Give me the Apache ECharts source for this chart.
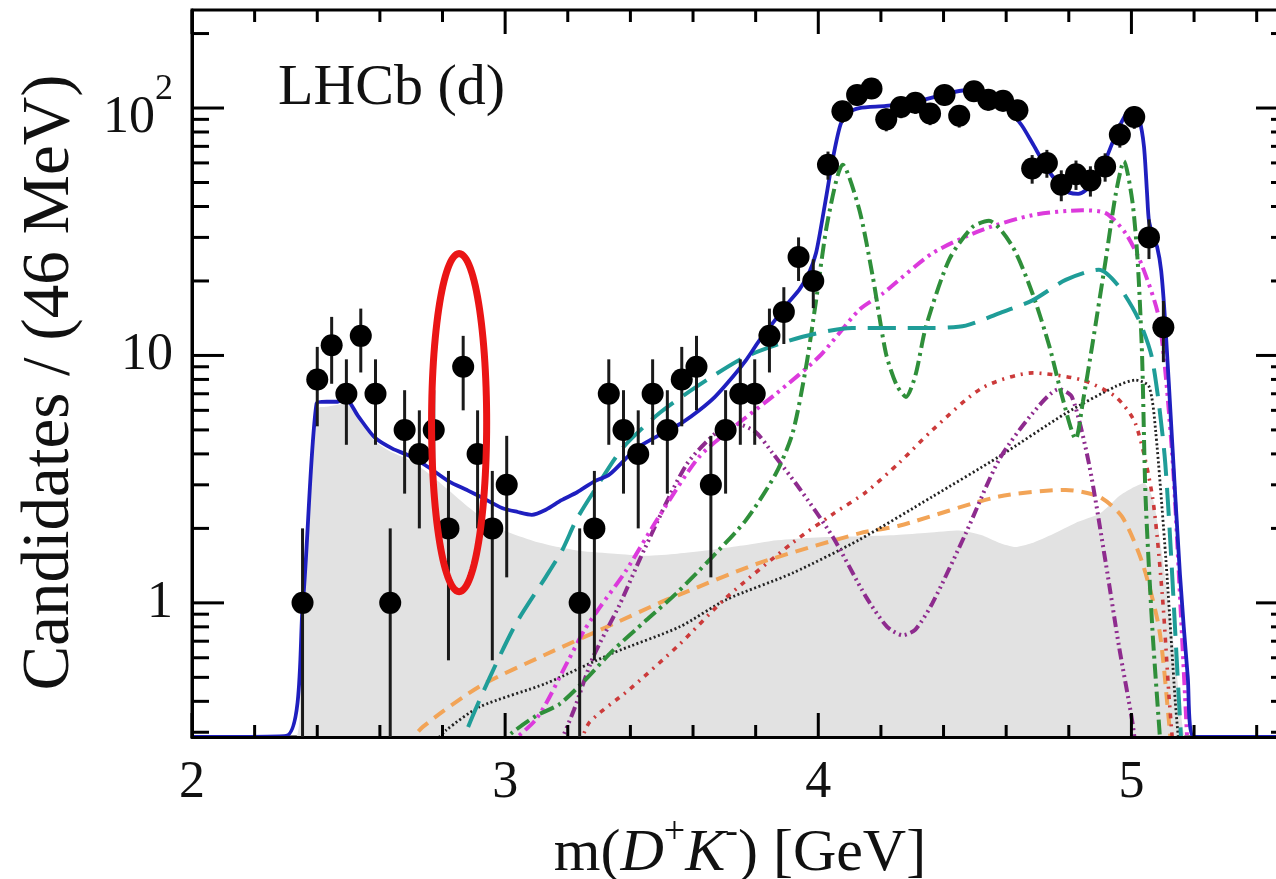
<!DOCTYPE html>
<html>
<head>
<meta charset="utf-8">
<title>m(D+K-) fit</title>
<script src="https://cdn.jsdelivr.net/npm/echarts@6/dist/echarts.min.js"></script>
<style>
  html, body { margin: 0; padding: 0; background: #fff; }
  #chart { width: 1276px; height: 879px; }
</style>
</head>
<body>
<div id="chart"></div>
<script>
// ---- axis ranges ----
const X_MIN = 2.0, X_MAX = 5.5;
const Y_MIN = 0.287, Y_MAX = 249;

// ---- tick positions ----
const xMajorTicks = [2, 3, 4, 5];
const xMinorTicks = [2.2, 2.4, 2.6, 2.8, 3.2, 3.4, 3.6, 3.8, 4.2, 4.4, 4.6, 4.8, 5.2, 5.4];
const yMajorTicks = [1, 10, 100];
const yMinorTicks = [0.3, 0.4, 0.5, 0.6, 0.7, 0.8, 0.9,
                     2, 3, 4, 5, 6, 7, 8, 9,
                     20, 30, 40, 50, 60, 70, 80, 90, 200];

// ---- data: candidates per 46 MeV bin ----
const binCentres = [2.353, 2.400, 2.446, 2.493, 2.539, 2.586, 2.633, 2.679, 2.726, 2.772,
                    2.819, 2.866, 2.912, 2.959, 3.005,
                    3.238, 3.285, 3.331, 3.378, 3.425, 3.471, 3.518, 3.564, 3.611, 3.657,
                    3.704, 3.751, 3.797, 3.844, 3.890, 3.937, 3.984, 4.031, 4.077, 4.124,
                    4.170, 4.217, 4.264, 4.310, 4.357, 4.403, 4.450, 4.497, 4.543, 4.590,
                    4.636, 4.683, 4.730, 4.776, 4.823, 4.869, 4.916, 4.963, 5.009, 5.056, 5.102];
const binCounts  = [1, 8, 11, 7, 12, 7, 1, 5, 4, 5,
                    2, 9, 4, 2, 3,
                    1, 2, 7, 5, 4, 7, 5, 8, 9, 3,
                    5, 7, 7, 12, 15, 25, 20, 59, 97, 113,
                    120, 90, 101, 105, 95, 113, 93, 117, 108, 107,
                    98, 57, 60, 49, 54, 51, 58, 78, 92, 30, 13];

// ---- fit components, [mass, candidates] ----
const totalFit = [[2.00,0],[2.30,0.29],[2.354,1.0],[2.398,6.4],[2.43,6.5],[2.465,6.5],[2.49,6.7],
  [2.53,5.7],[2.584,4.65],[2.64,4.2],[2.70,3.9],[2.76,3.5],[2.82,3.1],[2.88,2.85],[2.93,2.65],
  [2.99,2.42],[3.04,2.33],[3.085,2.27],[3.13,2.38],[3.18,2.6],[3.23,2.8],[3.285,3.1],[3.333,3.3],
  [3.418,4.2],[3.47,4.6],[3.525,5.0],[3.57,5.4],[3.62,6.0],[3.67,6.8],[3.727,8.2],[3.77,9.6],
  [3.812,11.5],[3.86,13.8],[3.907,16.5],[3.94,18.5],[3.97,21.5],[3.993,26],[4.02,40],[4.046,62],
  [4.07,85],[4.09,95],[4.131,100],[4.216,102],[4.312,106],[4.407,114],[4.471,118],[4.535,111],
  [4.609,98],[4.65,85],[4.684,72],[4.72,60],[4.748,53],[4.78,47.5],[4.801,45.5],[4.83,45],
  [4.854,46.5],[4.89,52],[4.918,62],[4.95,78],[4.982,94],[5.008,98],[5.025,90],[5.04,70],
  [5.05,45],[5.056,35],[5.07,30],[5.082,27.5],[5.095,22],[5.108,13.5],[5.13,4.5],[5.155,1.3],
  [5.18,0.5],[5.20,0.25],[5.50,0]];

const backgroundShape = [[2.0,0],[2.33,0],[2.345,0.4],[2.37,2.0],[2.398,6.1],[2.43,6.2],[2.49,6.4],
  [2.584,4.5],[2.64,4.05],[2.70,3.75],[2.76,3.3],[2.82,2.85],[2.88,2.45],[2.94,2.15],[3.0,1.95],
  [3.09,1.78],[3.17,1.68],[3.24,1.62],[3.35,1.58],[3.45,1.55],[3.55,1.58],[3.65,1.63],[3.75,1.7],
  [3.85,1.78],[3.94,1.82],[4.05,1.85],[4.15,1.86],[4.25,1.88],[4.35,1.92],[4.45,1.96],[4.52,1.88],
  [4.577,1.75],[4.63,1.68],[4.68,1.74],[4.75,1.9],[4.82,2.1],[4.9,2.3],[4.96,2.7],[5.0,2.9],
  [5.04,3.05],[5.07,2.6],[5.10,1.5],[5.14,0.6],[5.17,0.29],[5.2,0],[5.5,0]];

const tealComponent = [[2.85,0.22],[2.871,0.29],[2.951,0.50],[3.036,0.83],[3.131,1.28],[3.183,1.64],
  [3.227,2.16],[3.28,2.78],[3.375,4.22],[3.493,5.85],[3.62,7.6],[3.769,9.9],[3.95,11.9],[4.108,12.9],
  [4.25,12.9],[4.365,12.9],[4.471,13.2],[4.577,14.8],[4.684,16.7],[4.79,20.2],[4.896,22.2],[4.96,19.0],
  [5.024,13.9],[5.067,9.6],[5.108,3.67],[5.151,0.42],[5.165,0.2]];

const greenComponent = [[2.97,0.26],[3.024,0.30],[3.10,0.35],[3.174,0.39],[3.25,0.48],[3.343,0.64],
  [3.45,0.85],[3.546,1.09],[3.652,1.49],[3.769,2.16],[3.865,3.34],[3.918,4.85],[3.961,9.0],[3.993,16.7],
  [4.03,35],[4.078,59],[4.131,38.8],[4.174,20.8],[4.216,10.2],[4.25,7.6],[4.28,6.8],[4.31,8.3],
  [4.344,13.1],[4.418,24.4],[4.492,33],[4.545,35],[4.62,27.6],[4.684,17.8],[4.737,11.0],[4.779,6.8],
  [4.822,4.6],[4.845,6.5],[4.875,11],[4.918,24.4],[4.95,45],[4.976,61],[5.003,42],[5.02,24],
  [5.034,10],[5.045,2.7],[5.067,0.78],[5.089,0.31],[5.10,0.2]];

const magentaComponent = [[2.98,0.25],[3.1,0.34],[3.2,0.58],[3.254,0.78],[3.30,0.95],[3.386,1.35],
  [3.493,2.25],[3.62,3.9],[3.727,5.1],[3.865,7.0],[4.003,9.9],[4.131,15.3],[4.206,17.8],[4.365,25.9],
  [4.524,32.2],[4.684,36.9],[4.843,38.6],[4.918,37.6],[4.982,31.1],[5.035,22.9],[5.089,13.9],
  [5.13,4.0],[5.16,0.8],[5.18,0.25]];

const purpleComponent = [[3.17,0.26],[3.22,0.37],[3.28,0.6],[3.365,0.98],[3.445,1.65],[3.578,3.6],
  [3.684,5.0],[3.737,5.3],[3.80,4.9],[3.854,4.03],[3.94,2.9],[4.046,1.85],[4.152,1.06],[4.22,0.8],
  [4.27,0.74],[4.31,0.78],[4.365,1.0],[4.471,1.91],[4.577,3.78],[4.684,5.83],[4.769,7.3],[4.81,6.8],
  [4.864,3.67],[4.918,1.45],[4.96,0.67],[5.003,0.33],[5.02,0.22]];

const redComponent = [[3.24,0.27],[3.27,0.33],[3.40,0.45],[3.557,0.68],[3.706,1.05],[3.918,1.75],
  [4.05,2.3],[4.152,2.8],[4.26,3.7],[4.365,5.0],[4.524,7.4],[4.684,8.5],[4.843,7.95],[4.95,6.8],
  [5.013,5.3],[5.067,2.69],[5.099,1.06],[5.12,0.42],[5.135,0.24]];

const blackComponent = [[2.76,0.26],[2.812,0.306],[2.919,0.38],[3.131,0.473],[3.344,0.627],[3.557,0.80],
  [3.706,1.03],[3.918,1.32],[4.131,1.8],[4.365,2.69],[4.577,3.9],[4.79,5.83],[4.95,7.5],[5.013,7.95],
  [5.056,7.5],[5.077,5.0],[5.11,1.5],[5.14,0.4],[5.155,0.24]];

const orangeComponent = [[2.68,0.26],[2.738,0.316],[2.919,0.46],[3.131,0.62],[3.344,0.82],[3.493,1.0],
  [3.557,1.08],[3.812,1.45],[4.131,1.91],[4.258,2.05],[4.577,2.69],[4.79,2.86],[4.896,2.69],[4.97,2.23],
  [5.035,1.45],[5.089,0.78],[5.12,0.33],[5.13,0.24]];

// highlighted region around the 2.85 GeV excess
const highlight = { x: 2.853, halfWidth: 0.088, yLow: 1.11, yHigh: 25.8 };

const FONT = '"Liberation Serif", "DejaVu Serif", serif';
const INK = '#111';

// values at or below zero sit on the lower frame edge
const floorAtMin = pts => pts.map(([x, y]) => [x, Math.max(y, Y_MIN)]);

function curve(name, pts, color, width, dash, z) {
  return {
    name, type: 'line', data: pts, z,
    symbol: 'none', smooth: 0.25, silent: true, clip: true,
    lineStyle: { color, width, type: dash, cap: 'butt' }
  };
}

const chart = echarts.init(document.getElementById('chart'), null, { renderer: 'canvas' });

const option = {
  animation: false,
  backgroundColor: '#fff',
  grid: {
    left: 192, top: 10, right: -12, bottom: 142,
    containLabel: false, outerBoundsMode: 'none',
    show: true, borderColor: '#000', borderWidth: 3, backgroundColor: 'transparent'
  },
  xAxis: {
    type: 'value', min: X_MIN, max: X_MAX, interval: 1, z: 10,
    axisLine: { show: true, lineStyle: { color: '#000', width: 3 } },
    axisTick: { show: false }, splitLine: { show: false },
    axisLabel: {
      margin: 20, color: INK, fontFamily: FONT, fontSize: 52,
      formatter: v => (Math.abs(v - Math.round(v)) < 1e-6 && v < X_MAX ? String(Math.round(v)) : '')
    },
    name: '{t|m(}{i|D}{s|+}{i|K}{s|-}{t|) [GeV]}',
    nameLocation: 'middle', nameGap: 72,
    nameTextStyle: {
      rich: {
        t: { fontFamily: FONT, fontSize: 60, color: INK, lineHeight: 70, verticalAlign: 'bottom' },
        i: { fontFamily: FONT, fontSize: 60, color: INK, fontStyle: 'italic', lineHeight: 70, verticalAlign: 'bottom' },
        s: { fontFamily: FONT, fontSize: 38, color: INK, lineHeight: 40, verticalAlign: 'top' }
      }
    }
  },
  yAxis: {
    type: 'log', logBase: 10, min: Y_MIN, max: Y_MAX, z: 10,
    axisLine: { show: true, lineStyle: { color: '#000', width: 3 } },
    axisTick: { show: false }, splitLine: { show: false }, minorTick: { show: false },
    axisLabel: {
      margin: 19, color: INK, fontFamily: FONT, fontSize: 52,
      formatter: v => {
        const l = Math.log10(v), e = Math.round(l);
        if (Math.abs(l - e) > 1e-6) return '';
        if (e === 0) return '1';
        if (e === 1) return '10';
        return '{n|10}{s|' + e + '}';
      },
      rich: {
        n: { fontFamily: FONT, fontSize: 52, color: INK, lineHeight: 72, verticalAlign: 'bottom' },
        s: { fontFamily: FONT, fontSize: 36, color: INK, lineHeight: 36, verticalAlign: 'top' }
      }
    },
    name: 'Candidates / (46 MeV)',
    nameLocation: 'middle', nameRotate: 90, nameGap: 108,
    nameTextStyle: { fontFamily: FONT, fontSize: 67, color: INK, padding: [0, 18, 0, 0] }
  },
  graphic: [{
    type: 'text', left: 278, top: 60, z: 20,
    style: { text: 'LHCb (d)', font: '58px ' + FONT, fill: INK }
  }],
  series: [
    {
      name: 'background', type: 'line', data: floorAtMin(backgroundShape), z: 1,
      symbol: 'none', smooth: 0.2, silent: true,
      lineStyle: { width: 0, color: '#e2e2e2' },
      areaStyle: { color: '#e2e2e2', opacity: 1, origin: 'start' }
    },
    curve('orange', orangeComponent, '#f2a457', 4, [13, 8], 2),
    curve('black', blackComponent, '#222222', 2.8, [2, 2.5], 2),
    curve('red', redComponent, '#cc3a3a', 3.6, [5, 6, 2, 6], 2),
    curve('purple', purpleComponent, '#8e2b8e', 4, [11, 4, 2, 4, 2, 4, 2, 4], 2),
    curve('magenta', magentaComponent, '#dc3adc', 4, [13, 5, 3, 5, 3, 5], 2),
    curve('green', greenComponent, '#2f8f3a', 4, [15, 5, 3, 5], 2),
    curve('teal', tealComponent, '#1f9d98', 4, [28, 12], 2),
    curve('total', floorAtMin(totalFit), '#1f1fbf', 3.8, 'solid', 3),
    {
      // tick marks on all four sides of the frame
      name: 'xTicks', type: 'custom', z: 12, silent: true,
      data: xMajorTicks.map(x => [x, Y_MIN, 1]).concat(xMinorTicks.map(x => [x, Y_MIN, 0])),
      encode: { x: 0, y: 1 },
      renderItem: (params, api) => {
        const x = api.value(0), len = api.value(2) ? 24 : 12;
        const b = api.coord([x, Y_MIN]), t = api.coord([x, Y_MAX]);
        const st = { stroke: '#000', lineWidth: 3 };
        return { type: 'group', children: [
          { type: 'line', shape: { x1: b[0], y1: b[1], x2: b[0], y2: b[1] - len }, style: st },
          { type: 'line', shape: { x1: t[0], y1: t[1], x2: t[0], y2: t[1] + len }, style: st }
        ]};
      }
    },
    {
      name: 'yTicks', type: 'custom', z: 12, silent: true,
      data: yMajorTicks.map(y => [X_MIN, y, 1]).concat(yMinorTicks.map(y => [X_MIN, y, 0])),
      encode: { x: 0, y: 1 },
      renderItem: (params, api) => {
        const y = api.value(1), len = api.value(2) ? 32 : 17;
        const l = api.coord([X_MIN, y]), r = api.coord([X_MAX, y]);
        const st = { stroke: '#000', lineWidth: 3 };
        return { type: 'group', children: [
          { type: 'line', shape: { x1: l[0], y1: l[1], x2: l[0] + len, y2: l[1] }, style: st },
          { type: 'line', shape: { x1: r[0], y1: r[1], x2: r[0] - len, y2: r[1] }, style: st }
        ]};
      }
    },
    {
      // data points with Poisson uncertainties
      name: 'data', type: 'custom', z: 14, silent: true,
      data: binCentres.map((x, i) => [x, binCounts[i]]),
      encode: { x: 0, y: 1 },
      renderItem: (params, api) => {
        const x = api.value(0), n = api.value(1), err = Math.sqrt(n);
        const c = api.coord([x, n]);
        const lo = api.coord([x, Math.max(n - err, Y_MIN)]);
        const hi = api.coord([x, n + err]);
        return { type: 'group', children: [
          { type: 'line', shape: { x1: lo[0], y1: lo[1], x2: hi[0], y2: hi[1] },
            style: { stroke: '#1a1a1a', lineWidth: 3 } },
          { type: 'circle', shape: { cx: c[0], cy: c[1], r: 11 }, style: { fill: '#000' } }
        ]};
      }
    },
    {
      name: 'highlight', type: 'custom', z: 16, silent: true,
      data: [[highlight.x, Math.sqrt(highlight.yLow * highlight.yHigh)]],
      encode: { x: 0, y: 1 },
      renderItem: (params, api) => {
        const left = api.coord([highlight.x - highlight.halfWidth, highlight.yLow]);
        const right = api.coord([highlight.x + highlight.halfWidth, highlight.yLow]);
        const top = api.coord([highlight.x, highlight.yHigh]);
        const bottom = api.coord([highlight.x, highlight.yLow]);
        const cx = (left[0] + right[0]) / 2, cy = (top[1] + bottom[1]) / 2;
        const rx = (right[0] - left[0]) / 2, ry = (bottom[1] - top[1]) / 2;
        const pts = [];
        for (let k = 0; k < 120; k++) {
          const a = (k / 120) * Math.PI * 2;
          pts.push([cx + rx * Math.cos(a), cy + ry * Math.sin(a)]);
        }
        return { type: 'polygon', shape: { points: pts },
                 style: { fill: 'none', stroke: '#ea1515', lineWidth: 7 } };
      }
    }
  ]
};

chart.setOption(option);
</script>
</body>
</html>
